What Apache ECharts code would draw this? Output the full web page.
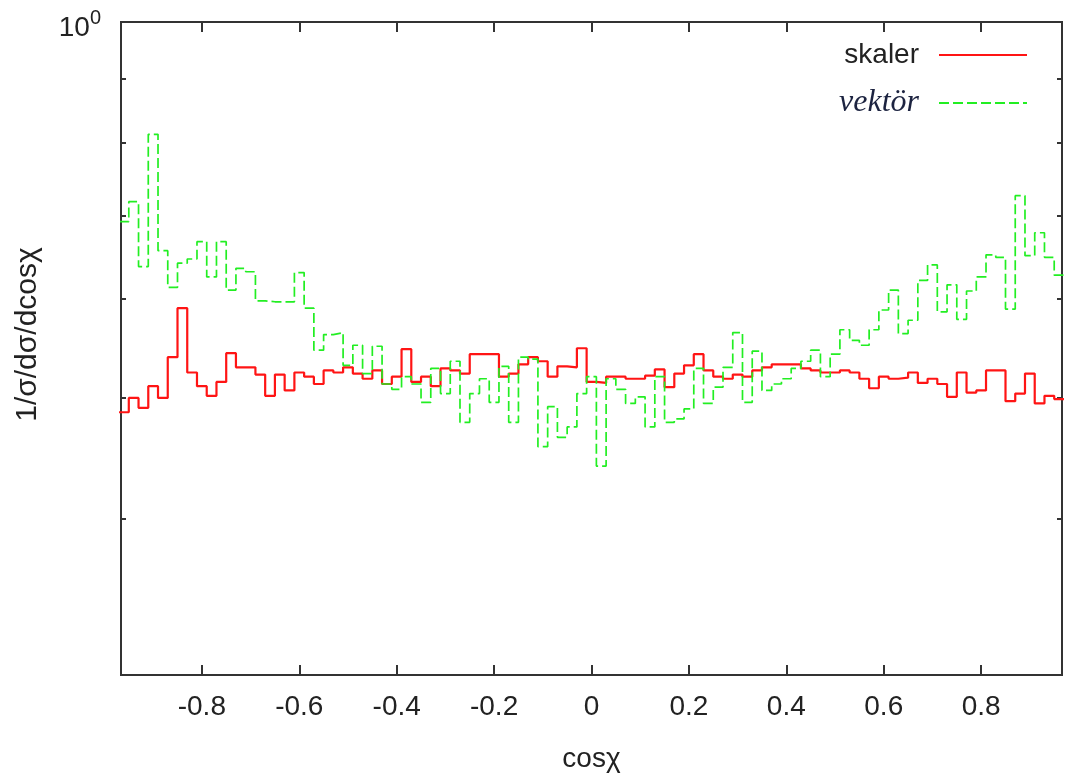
<!DOCTYPE html>
<html>
<head>
<meta charset="utf-8">
<script src="https://cdn.jsdelivr.net/npm/echarts@6/dist/echarts.min.js"></script>
<style>
  html, body { margin: 0; padding: 0; background: #fff; }
  #chart { width: 1066px; height: 782px; }
</style>
</head>
<body>
<div id="chart"></div>
<script>
// Axis ranges and tick positions
const X_MIN = -0.966, X_MAX = 0.966;
const Y_MIN = 0.3, Y_MAX = 1;
const X_TICKS = [-0.8, -0.6, -0.4, -0.2, 0, 0.2, 0.4, 0.6, 0.8];
const Y_TICKS = [0.4, 0.5, 0.6, 0.7, 0.8, 0.9, 1];
const Y_LABELED = [1];

// Histogram binning: 97 bins of width 0.02 centred on -0.96 ... 0.96
const FIRST_BIN_CENTER = -0.96;
const BIN_WIDTH = 0.02;

// 1/sigma dsigma/dcos(chi) per bin
const skaler = [
  0.487, 0.500, 0.491, 0.511, 0.500, 0.539, 0.590, 0.524, 0.511, 0.502,
  0.515, 0.543, 0.529, 0.529, 0.522, 0.502, 0.522, 0.507, 0.524, 0.520,
  0.513, 0.526, 0.524, 0.529, 0.523, 0.518, 0.526, 0.513, 0.520, 0.547,
  0.515, 0.520, 0.511, 0.528, 0.526, 0.523, 0.542, 0.542, 0.542, 0.520,
  0.523, 0.532, 0.539, 0.535, 0.520, 0.530, 0.529, 0.548, 0.515, 0.514,
  0.520, 0.520, 0.518, 0.518, 0.521, 0.527, 0.510, 0.523, 0.531, 0.542,
  0.526, 0.520, 0.518, 0.522, 0.520, 0.526, 0.529, 0.532, 0.532, 0.532,
  0.528, 0.526, 0.524, 0.524, 0.526, 0.524, 0.518, 0.509, 0.520, 0.518,
  0.519, 0.524, 0.514, 0.518, 0.513, 0.501, 0.524, 0.505, 0.507, 0.526,
  0.526, 0.497, 0.504, 0.523, 0.495, 0.502, 0.499
];
const vektor = [
  0.692, 0.718, 0.637, 0.813, 0.656, 0.613, 0.641, 0.646, 0.667, 0.625,
  0.667, 0.610, 0.635, 0.631, 0.598, 0.597, 0.597, 0.597, 0.630, 0.590,
  0.546, 0.562, 0.564, 0.531, 0.551, 0.523, 0.550, 0.513, 0.508, 0.520,
  0.513, 0.496, 0.528, 0.504, 0.535, 0.478, 0.504, 0.518, 0.496, 0.530,
  0.478, 0.539, 0.537, 0.457, 0.492, 0.465, 0.474, 0.504, 0.520, 0.441,
  0.518, 0.508, 0.495, 0.501, 0.474, 0.520, 0.478, 0.481, 0.490, 0.528,
  0.495, 0.510, 0.529, 0.564, 0.496, 0.545, 0.507, 0.513, 0.518, 0.528,
  0.535, 0.546, 0.520, 0.542, 0.567, 0.556, 0.551, 0.567, 0.588, 0.610,
  0.563, 0.577, 0.621, 0.639, 0.586, 0.616, 0.578, 0.609, 0.625, 0.651,
  0.648, 0.589, 0.726, 0.650, 0.678, 0.648, 0.627
];

const FONT = '"Liberation Sans", Arial, Helvetica, sans-serif';
const SERIF = '"Liberation Serif", "DejaVu Serif", serif';
const TEXT_COLOR = '#222';
const AXIS_COLOR = '#333';
const RED = '#ff1414';
const GREEN = '#22ee22';

// Convert per-bin values into step-line vertices at the bin edges
function stepPoints(values) {
  const pts = values.map((v, i) => [
    +(FIRST_BIN_CENTER + i * BIN_WIDTH - BIN_WIDTH / 2).toFixed(4), v
  ]);
  const last = values.length - 1;
  pts.push([+(FIRST_BIN_CENTER + last * BIN_WIDTH + BIN_WIDTH / 2).toFixed(4), values[last]]);
  return pts;
}

const logTicks = Y_TICKS.map(t => Math.log10(t));
const logLabeled = Y_LABELED.map(t => Math.log10(t));

function xAxisDef(position, withLabels) {
  return {
    type: 'value', min: X_MIN, max: X_MAX, position: position,
    axisLine: { show: true, onZero: false, lineStyle: { color: AXIS_COLOR, width: 2 } },
    axisTick: { show: true, inside: true, length: 10, customValues: X_TICKS,
                lineStyle: { color: AXIS_COLOR, width: 2 } },
    axisLabel: { show: withLabels, customValues: X_TICKS, fontSize: 28, margin: 18,
                 fontFamily: FONT, color: TEXT_COLOR, formatter: v => String(v) },
    splitLine: { show: false }
  };
}

// Minor log ticks drawn on a log10-space axis, mirrored on both sides;
// the top of the range is labelled as a power of ten.
function tickAxisDef(position, withLabels) {
  return {
    type: 'value', min: Math.log10(Y_MIN), max: Math.log10(Y_MAX), position: position,
    axisLine: { show: true, onZero: false, lineStyle: { color: AXIS_COLOR, width: 2 } },
    axisTick: { show: true, inside: true, length: 5, customValues: logTicks,
                lineStyle: { color: AXIS_COLOR, width: 2 } },
    axisLabel: {
      show: withLabels, customValues: logLabeled, margin: 20, padding: [12, 0, 0, 0],
      formatter: v => '{b|10}{s|' + Math.round(v) + '}',
      rich: {
        b: { fontSize: 28, lineHeight: 40, fontFamily: FONT, color: TEXT_COLOR },
        s: { fontSize: 20, lineHeight: 10, fontFamily: FONT, color: TEXT_COLOR, verticalAlign: 'top' }
      }
    },
    splitLine: { show: false }
  };
}

const chart = echarts.init(document.getElementById('chart'), null, { renderer: 'canvas' });
chart.setOption({
  animation: false,
  backgroundColor: '#ffffff',
  grid: {
    left: 121, right: 4, top: 22, bottom: 107,
    containLabel: false, outerBoundsMode: 'none',
    show: true, borderColor: AXIS_COLOR, borderWidth: 2, backgroundColor: 'transparent'
  },
  legend: {
    orient: 'vertical', align: 'right', right: 33, top: 36,
    itemWidth: 88, itemHeight: 14, itemGap: 18,
    itemStyle: { opacity: 0 },
    data: [
      { name: 'skaler', textStyle: { fontFamily: FONT, fontSize: 28, color: TEXT_COLOR, padding: [0, 15, 0, 0] } },
      { name: 'vektör', textStyle: { fontFamily: SERIF, fontStyle: 'italic', fontSize: 32,
                                      color: '#1c2340', padding: [0, 15, 0, 0] } }
    ]
  },
  xAxis: [
    Object.assign(xAxisDef('bottom', true), {
      name: 'cosχ', nameLocation: 'middle', nameGap: 70,
      nameTextStyle: { fontSize: 28, fontFamily: FONT, color: TEXT_COLOR }
    }),
    xAxisDef('top', false)
  ],
  yAxis: [
    {
      type: 'log', logBase: 10, min: Y_MIN, max: Y_MAX, position: 'left',
      name: '1/σ/dσ/dcosχ', nameLocation: 'middle', nameRotate: 90, nameGap: 78,
      nameTextStyle: { fontSize: 30, fontFamily: FONT, color: TEXT_COLOR, padding: [0, 0, 0, 28] },
      axisLine: { show: false }, axisTick: { show: false }, axisLabel: { show: false },
      splitLine: { show: false }
    },
    tickAxisDef('left', true),
    tickAxisDef('right', false)
  ],
  series: [
    {
      name: 'skaler', type: 'line', xAxisIndex: 0, yAxisIndex: 0,
      step: 'end', symbol: 'none', showSymbol: false,
      data: stepPoints(skaler),
      lineStyle: { color: RED, width: 2.2 },
      itemStyle: { color: RED }
    },
    {
      name: 'vektör', type: 'line', xAxisIndex: 0, yAxisIndex: 0,
      step: 'end', symbol: 'none', showSymbol: false,
      data: stepPoints(vektor),
      lineStyle: { color: GREEN, width: 1.7, type: [10, 4] },
      itemStyle: { color: GREEN }
    }
  ]
});
</script>
</body>
</html>
